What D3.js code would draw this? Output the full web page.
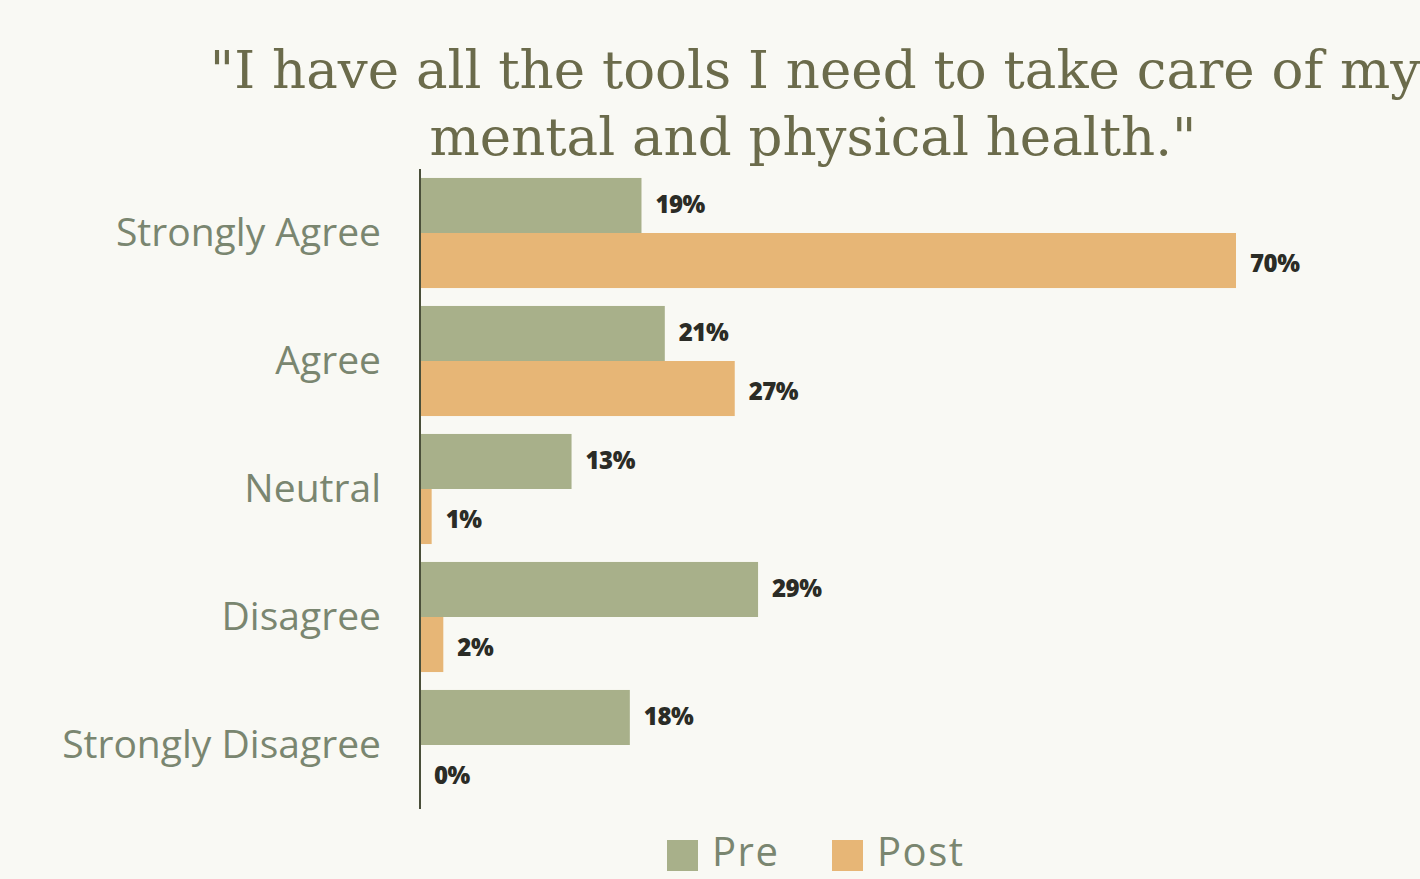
<!DOCTYPE html>
<html>
<head>
<meta charset="utf-8">
<script src="https://cdn.jsdelivr.net/npm/d3@7"></script>
<style>
  html, body { margin: 0; padding: 0; background: #f9f9f4; }
  svg { display: block; }
</style>
</head>
<body>
<svg id="chart" width="1420" height="879"></svg>
<script>
// Survey responses, pre vs post programme (percent of respondents)
const categories = ["Strongly Agree", "Agree", "Neutral", "Disagree", "Strongly Disagree"];
const preValues  = [19, 21, 13, 29, 18];
const postValues = [70, 27, 1, 2, 0];
const seriesNames = ["Pre", "Post"];
const titleLines = ["\"I have all the tools I need to take care of my", "mental and physical health.\""];

const colors = { Pre: "#a8b08a", Post: "#e7b676" };
const textColor = "#7a8670";
const titleColor = "#6b6b4b";
const sans = "'Open Sans', Lato, sans-serif";
const serif = "'DejaVu Serif', 'Liberation Serif', serif";

const svg = d3.select("#chart");
const W = 1420, H = 879;
svg.append("rect").attr("width", W).attr("height", H).attr("fill", "#f9f9f4");

const rows = categories.map((c, i) => ({ category: c, Pre: preValues[i], Post: postValues[i] }));

const x = d3.scaleLinear().domain([0, 70]).range([420, 1236]);
const y = d3.scaleBand().domain(categories).range([169, 809]).paddingInner(0.14).paddingOuter(0.07);
const ySub = d3.scaleBand().domain(seriesNames).range([0, y.bandwidth()]);

// Scale a text's font size so that it spans the given width
const fitText = (sel, target) => {
  const w = sel.node().getComputedTextLength();
  const fs = parseFloat(sel.attr("font-size"));
  sel.attr("font-size", fs * target / w);
  return fs * target / w;
};

// Title, two centred lines
const t2 = svg.append("text")
  .attr("x", 813).attr("y", 155)
  .attr("text-anchor", "middle")
  .attr("font-family", serif)
  .attr("font-size", 50).attr("fill", titleColor)
  .text(titleLines[1]);
const titleSize = fitText(t2, 767);
svg.append("text")
  .attr("x", 815).attr("y", 88)
  .attr("text-anchor", "middle")
  .attr("font-family", serif)
  .attr("font-size", titleSize).attr("fill", titleColor)
  .text(titleLines[0]);

// Bars
const groups = svg.append("g").selectAll("g")
  .data(rows).join("g")
  .attr("transform", d => `translate(0,${y(d.category)})`);

groups.selectAll("rect")
  .data(d => seriesNames.map(s => ({ series: s, value: d[s] })))
  .join("rect")
  .attr("x", x(0))
  .attr("y", d => ySub(d.series))
  .attr("width", d => x(d.value) - x(0))
  .attr("height", ySub.bandwidth())
  .attr("fill", d => colors[d.series]);

groups.selectAll("text.val")
  .data(d => seriesNames.map(s => ({ series: s, value: d[s] })))
  .join("text")
  .attr("class", "val")
  .attr("x", d => x(d.value) + 14)
  .attr("y", d => ySub(d.series) + ySub.bandwidth() / 2 + (d.series === "Post" ? 3 : -1))
  .attr("dy", "0.35em")
  .attr("font-family", sans)
  .attr("font-weight", 800)
  .attr("font-size", 24)
  .attr("letter-spacing", -0.5)
  .attr("fill", "#2b2c26")
  .text(d => d.value + "%");

// Category axis
const yAxis = svg.append("g")
  .attr("transform", `translate(${x(0)},0)`)
  .call(d3.axisLeft(y).tickSize(0).tickPadding(39));
yAxis.select(".domain")
  .attr("stroke", "#4a4f3a").attr("stroke-width", 2)
  .attr("d", `M0,169V809`);
const tickTexts = yAxis.selectAll(".tick text")
  .attr("font-family", sans)
  .attr("font-size", 33)
  .attr("fill", textColor);
// Size category labels so the longest spans the label column
const longest = tickTexts.filter(d => d === "Strongly Disagree");
const labelSize = fitText(longest, 319);
tickTexts.attr("font-size", labelSize);

// Legend
const legend = svg.append("g");
const legendItems = [
  { name: "Pre", sx: 667, tx: 712 },
  { name: "Post", sx: 832, tx: 877 }
];
legendItems.forEach(item => {
  legend.append("rect")
    .attr("x", item.sx).attr("y", 840)
    .attr("width", 31).attr("height", 31)
    .attr("fill", colors[item.name]);
  legend.append("text")
    .attr("x", item.tx).attr("y", 866)
    .attr("font-family", sans)
    .attr("font-size", 40)
    .attr("letter-spacing", 1.5)
    .attr("fill", textColor)
    .text(item.name);
});
</script>
</body>
</html>
